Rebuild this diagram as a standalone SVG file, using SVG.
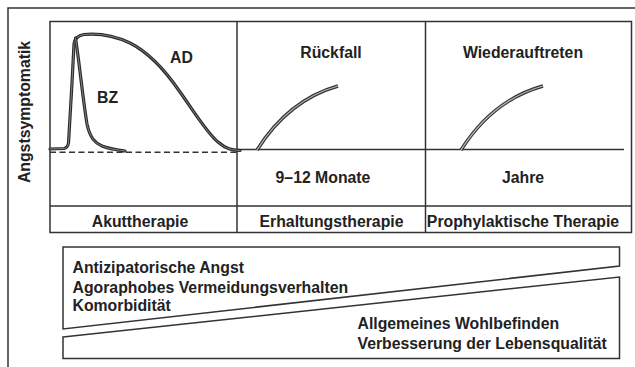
<svg xmlns="http://www.w3.org/2000/svg" width="635" height="367" viewBox="0 0 635 367">
<style>
.ln{fill:none;stroke:#333;stroke-width:1.5}
.t{font-family:"Liberation Sans",Arial,sans-serif;font-weight:bold;font-size:15.8px;fill:#222}
.m{text-anchor:middle}
.co{fill:none;stroke:#2a2a2a;stroke-width:3.2;stroke-linecap:round;stroke-linejoin:round}
.ci{fill:none;stroke:#8a8a8a;stroke-width:0.9;stroke-linecap:round;stroke-linejoin:round}
.ro{fill:none;stroke:#333;stroke-width:3.4;stroke-linecap:butt}
.ri{fill:none;stroke:#bbb;stroke-width:1.2;stroke-linecap:butt}
</style>
<rect width="635" height="367" fill="#fff"/>
<g id="frame">
<path class="ln" d="M8,367 V8 H635"/>
</g>
<g id="chart">
<rect class="ln" x="50" y="21.5" width="581.5" height="211"/>
<line class="ln" x1="50" y1="206" x2="631.5" y2="206"/>
<line class="ln" x1="237" y1="21.5" x2="237" y2="232.5"/>
<line class="ln" x1="425.5" y1="21.5" x2="425.5" y2="232.5"/>
</g>
<g id="connectors">
<line x1="50" y1="152.3" x2="237" y2="152.3" stroke="#333" stroke-width="1.5" stroke-dasharray="6 3.5"/>
<line class="ln" x1="237" y1="149.5" x2="624" y2="149.5"/>
<path id="curve-AD" class="co" d="M50,149 L64,148.5 Q67.5,148 68.5,143 L72,83 L74,44 Q75,36 84,34.5 C100,33 115,36 130,43 C150,53 165,70 180,92 C195,113 207,133 218,142 C226,149 232,150 240,150.5"/>
<path class="ci" d="M50,149 L64,148.5 Q67.5,148 68.5,143 L72,83 L74,44 Q75,36 84,34.5 C100,33 115,36 130,43 C150,53 165,70 180,92 C195,113 207,133 218,142 C226,149 232,150 240,150.5"/>
<path id="curve-BZ" class="co" d="M75.5,38 C79,60 83,100 87,124 C90,138 95,143 102,146 C110,149 118,150 125,151"/>
<path class="ci" d="M75.5,38 C79,60 83,100 87,124 C90,138 95,143 102,146 C110,149 118,150 125,151"/>
<path id="curve-rueckfall" class="ro" d="M257,150 Q288.5,100 338,86"/>
<path class="ri" d="M257,150 Q288.5,100 338,86"/>
<path id="curve-wieder" class="ro" d="M461,150 Q492.5,100 543,86"/>
<path class="ri" d="M461,150 Q492.5,100 543,86"/>
</g>
<g id="axis-label">
<text class="t m" transform="translate(30,112) rotate(-90)">Angstsymptomatik</text>
</g>
<g id="zone-acute">
<text class="t" x="170" y="63">AD</text>
<text class="t" x="97" y="103">BZ</text>
<text class="t m" x="140" y="226.5">Akuttherapie</text>
</g>
<g id="zone-maintenance">
<text class="t m" x="331" y="58">Rückfall</text>
<text class="t m" x="323" y="183">9–12 Monate</text>
<text class="t m" x="331.5" y="226.5">Erhaltungstherapie</text>
</g>
<g id="zone-prophylaxis">
<text class="t m" x="523" y="58">Wiederauftreten</text>
<text class="t m" x="523" y="183">Jahre</text>
<text class="t m" x="523" y="226.5">Prophylaktische Therapie</text>
</g>
<g id="wedge-decreasing">
<polygon class="ln" points="63,247 619.5,247 619.5,266 63,329"/>
<text class="t" x="72.5" y="273">Antizipatorische Angst</text>
<text class="t" x="72.5" y="292.5">Agoraphobes Vermeidungsverhalten</text>
<text class="t" x="72.5" y="311">Komorbidität</text>
</g>
<g id="wedge-increasing">
<polygon class="ln" points="63,337 619.5,277 619.5,358.5 63,358.5"/>
<text class="t" x="357.5" y="329">Allgemeines Wohlbefinden</text>
<text class="t" x="357.5" y="349">Verbesserung der Lebensqualität</text>
</g>
</svg>
